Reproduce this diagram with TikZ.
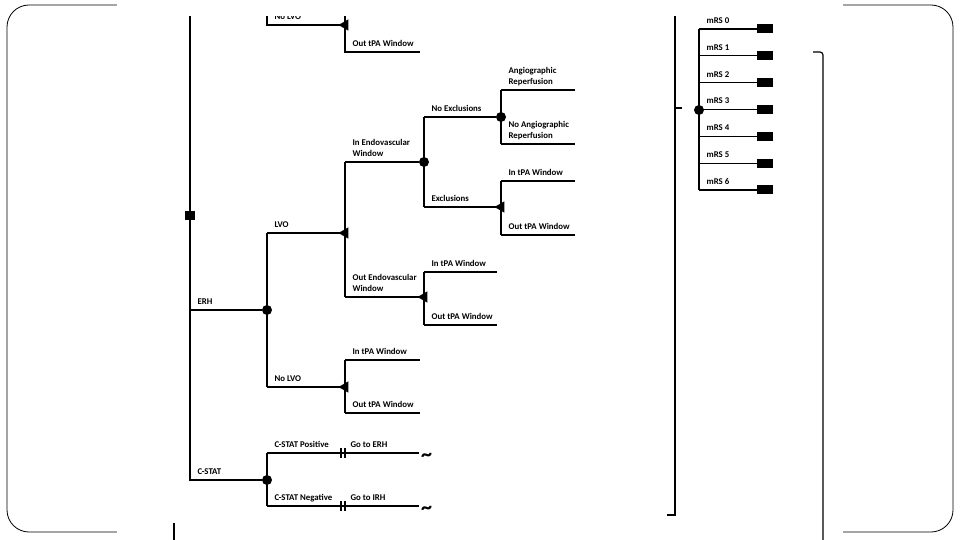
\documentclass[tikz,border=0pt]{standalone}
\usepackage{fontspec}
\setmainfont{Carlito}
\usetikzlibrary{shapes.geometric}

\begin{document}
\begin{tikzpicture}[x=1pt, y=-1pt,
    branch/.style={line width=1.2pt},
    chance/.style={circle, fill, inner sep=0pt, minimum size=10pt},
    decision/.style={rectangle, fill, inner sep=0pt, minimum width=10pt, minimum height=9pt},
    term/.style={regular polygon, regular polygon sides=3, rotate=90, fill, inner sep=0pt, minimum size=13pt},
    lbl/.style={pos=0, anchor=south west, xshift=7pt, yshift=5pt, inner sep=0pt, text depth=0pt,
        align=left, font=\bfseries\fontsize{8.8}{11}\selectfont}]
    \useasboundingbox (0,0) rectangle (960,540);

    % Slide frame, partly hidden behind the tree picture
    \draw[line width=0.8pt, rounded corners=22pt] (7,5) rectangle (953,532);
    \fill[white] (117,0) rectangle (843,540);

    \begin{scope}
    \clip (117,17) rectangle (843,540);

    % Root
    \coordinate (top) at (190,0);
    \node[decision] (root) at (190,215) {};
    \node[chance] (erh) at (267,310) {};
    \node[chance] (cstat) at (267,480) {};
    \draw[branch] (top) -- (root.center) -- (root |- cstat) -- node[lbl] {C-STAT} (cstat);
    \draw[branch] (root |- erh) -- node[lbl] {ERH} (erh);

    % Branch cut off at the top
    \coordinate (p0) at (267,0);
    \node[term] (t0) at (345,25) {};
    \coordinate (t0b) at (420,52);
    \draw[branch] (p0) -- (p0 |- t0) -- node[lbl] {No LVO} (t0.center);
    \draw[branch] (t0 |- p0) -- (t0 |- t0b) -- node[lbl] {Out tPA Window} (t0b);

    % ERH: LVO / No LVO
    \node[term] (lvo) at (345,233) {};
    \node[term] (nolvo) at (345,387) {};
    \draw[branch] (erh |- lvo) -- (erh |- nolvo);
    \draw[branch] (erh |- lvo) -- node[lbl] {LVO} (lvo.center);
    \draw[branch] (erh |- nolvo) -- node[lbl] {No LVO} (nolvo.center);

    % LVO: endovascular window
    \node[chance] (inendo) at (424,162) {};
    \node[term] (outendo) at (424,297) {};
    \draw[branch] (lvo |- inendo) -- (lvo |- outendo);
    \draw[branch] (lvo |- inendo) -- node[lbl] {In Endovascular\\Window} (inendo);
    \draw[branch] (lvo |- outendo) -- node[lbl] {Out Endovascular\\Window} (outendo.center);

    % In endovascular window: exclusions
    \node[chance] (noexcl) at (501,117) {};
    \node[term] (excl) at (501,207) {};
    \draw[branch] (inendo |- noexcl) -- (inendo |- excl);
    \draw[branch] (inendo |- noexcl) -- node[lbl] {No Exclusions} (noexcl);
    \draw[branch] (inendo |- excl) -- node[lbl] {Exclusions} (excl.center);

    % No exclusions: reperfusion
    \coordinate (angio) at (575,90);
    \coordinate (noangio) at (575,144);
    \draw[branch] (noexcl |- angio) -- (noexcl |- noangio);
    \draw[branch] (noexcl |- angio) -- node[lbl] {Angiographic\\Reperfusion} (angio);
    \draw[branch] (noexcl |- noangio) -- node[lbl] {No Angiographic\\Reperfusion} (noangio);

    % tPA window leaves
    \foreach \n/\ya/\yb/\xe in {excl/181/235/575, outendo/272/325/497, nolvo/360/413/420} {
        \draw[branch] (\n |- 0,\ya) -- (\n |- 0,\yb);
        \draw[branch] (\n |- 0,\ya) -- node[lbl] {In tPA Window} (\xe,\ya);
        \draw[branch] (\n |- 0,\yb) -- node[lbl] {Out tPA Window} (\xe,\yb);
    }

    % C-STAT: positive / negative
    \coordinate (bar1) at (343,453);
    \coordinate (bar2) at (343,506);
    \coordinate (pos) at (419,453);
    \coordinate (neg) at (419,506);
    \draw[branch] (cstat |- pos) -- (cstat |- neg);
    \draw[branch] (cstat |- pos) -- node[lbl] {C-STAT Positive} (bar1) -- node[lbl] {Go to ERH} (pos);
    \draw[branch] (cstat |- neg) -- node[lbl] {C-STAT Negative} (bar2) -- node[lbl] {Go to IRH} (neg);
    \foreach \b in {bar1, bar2} {
        \fill ([xshift=-3pt, yshift=-5pt]\b) rectangle ([xshift=-1pt, yshift=5pt]\b);
        \fill ([xshift=1pt, yshift=-5pt]\b) rectangle ([xshift=3pt, yshift=5pt]\b);
    }
    \foreach \e in {pos, neg}
        \node[anchor=base west, inner sep=0pt, font=\bfseries\fontsize{22}{22}\selectfont]
            at ([xshift=2pt, yshift=-8.5pt]\e) {\textasciitilde};

    % mRS outcomes
    \node[chance] (mrs) at (699,110) {};
    \draw[branch] (mrs |- 0,29) -- (mrs |- 0,190);
    \foreach \k in {0,...,6} {
        \coordinate (m\k) at (757,{29+26.83*\k});
        \draw[branch] (mrs |- m\k) -- node[lbl] {mRS \k} (m\k);
        \fill ([yshift=-4.5pt]m\k) rectangle ([xshift=16pt, yshift=4.5pt]m\k);
    }

    % Brackets
    \draw[branch] (675,0) -- (675,515) -- (667,515);
    \draw[branch] (675,108) -- (682,108);
    \draw[branch, rounded corners=3pt] (813,52) -- (823,52) -- (823,540);
    \draw[branch] (174,523) -- (174,540);
    \end{scope}
\end{tikzpicture}
\end{document}
